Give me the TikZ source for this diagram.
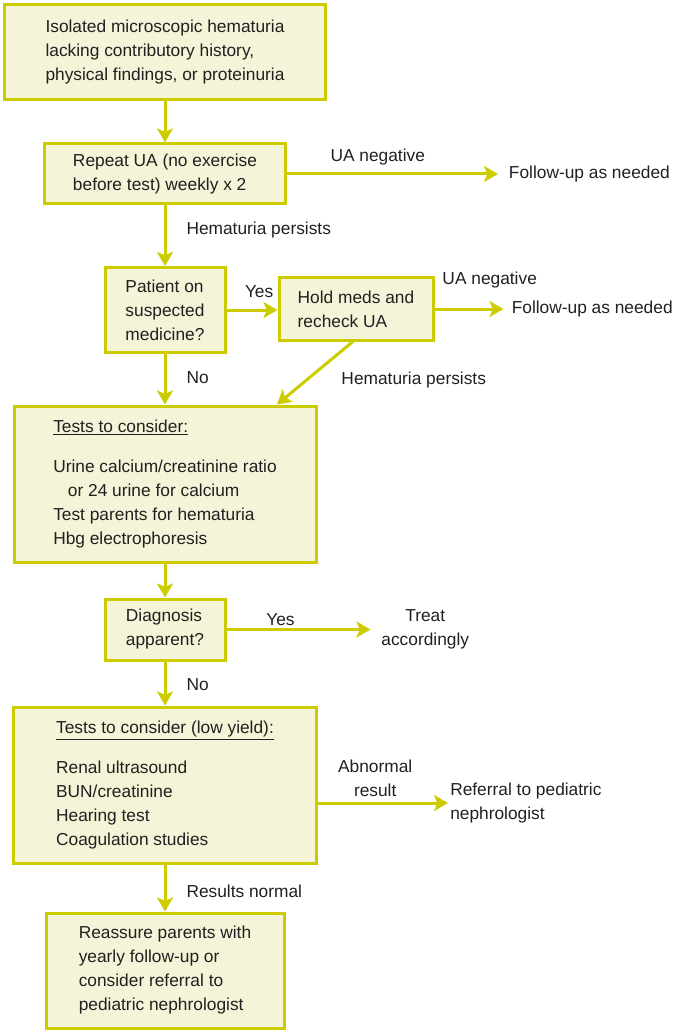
\documentclass[tikz,border=0pt]{standalone}
\usepackage{fontspec}
\setmainfont{Liberation Sans}
\usetikzlibrary{arrows.meta,positioning}
\definecolor{flowline}{RGB}{204,204,0}
\definecolor{flowfill}{RGB}{245,243,216}
\definecolor{inkgray}{RGB}{35,31,32}

\begin{document}
\begin{tikzpicture}[x=0.75pt, y=-0.75pt,
      font=\fontsize{13}{18}\selectfont, text=inkgray,
      arr/.style={-{Stealth[length=10.5pt,width=12pt,inset=2.5pt]}, line width=2.25pt, flowline},
      stepbox/.style={draw=flowline, line width=2.25pt, fill=flowfill,
                      align=left, inner sep=0pt},
      lbl/.style={inner sep=0pt, text depth=0pt, text=inkgray},
      outcome/.style={align=left, inner xsep=8pt, inner ysep=0pt}
    ]
    \useasboundingbox (0,0) rectangle (676,1030);
    \node[stepbox, minimum width=240.75pt, minimum height=71.25pt] (start) at (165,52.5) {%
      Isolated microscopic hematuria\\
      lacking contributory history,\\
      physical findings, or proteinuria};
    \node[stepbox, minimum width=180.75pt, minimum height=45pt] (repeat) at (165,174) {%
      Repeat UA (no exercise\\
      before test) weekly x 2};
    \node[stepbox, minimum width=90pt, minimum height=63.75pt] (onmed) at (165,310) {%
      Patient on\\
      suspected\\
      medicine?};
    \node[stepbox, minimum width=115.5pt, minimum height=46.5pt] (holdmeds) at (356,309) {%
      Hold meds and\\
      recheck UA};
    \node[stepbox, minimum width=226.5pt, minimum height=117pt] (tests) at (165,484) {%
      \underline{Tests to consider:}\\[12pt]
      Urine calcium/creatinine ratio\\
      \hspace*{11pt}or 24 urine for calcium\\
      Test parents for hematuria\\
      Hbg electrophoresis};
    \node[stepbox, minimum width=90pt, minimum height=45.75pt] (diagnosis) at (165,629.5) {%
      Diagnosis\\
      apparent?};
    \node[stepbox, minimum width=227.25pt, minimum height=117pt] (lowyield) at (165,785) {%
      \underline{Tests to consider (low yield):}\\[12pt]
      Renal ultrasound\\
      BUN/creatinine\\
      Hearing test\\
      Coagulation studies};
    \node[stepbox, minimum width=178.5pt, minimum height=86.25pt] (reassure) at (165,970.5) {%
      Reassure parents with\\
      yearly follow-up or\\
      consider referral to\\
      pediatric nephrologist};
    \node[outcome, right=158.25pt of repeat] (followup) {Follow-up as needed};
    \node[outcome, inner xsep=6pt, right=51.75pt of holdmeds] (followup2) {Follow-up as needed};
    \node[outcome, align=center, right=108pt of diagnosis] (treat) {Treat\\accordingly};
    \node[outcome, inner xsep=1.5pt, anchor=west] (referral)
      at ([xshift=97.5pt, yshift=-13.5pt]lowyield.east) {Referral to pediatric\\nephrologist};
    \draw[arr] (start) -- (repeat);
    \draw[arr] (repeat) -- node[lbl, above=8.6pt, pos=0.43] {UA negative} (followup);
    \draw[arr] (repeat) -- node[lbl, right=15pt, pos=0.38] {Hematuria persists} (onmed);
    \draw[arr] (onmed.east) -- node[lbl, above=7.9pt, pos=0.64] {Yes} (onmed.east -| holdmeds.west);
    \draw[arr] (holdmeds) -- node[lbl, above=16.9pt, pos=0.8] {UA negative} (followup2);
    \draw[arr] ([xshift=-2.25pt]holdmeds.south) -- node[lbl, right=23.3pt, pos=0.58] {Hematuria persists}
      ([xshift=84pt]tests.north);
    \draw[arr] (onmed) -- node[lbl, right=15pt, pos=0.46] {No} (tests);
    \draw[arr] (tests) -- (diagnosis);
    \draw[arr] (diagnosis) -- node[lbl, above=2.25pt, pos=0.375] {Yes} (treat);
    \draw[arr] (diagnosis) -- node[lbl, right=15pt, pos=0.515] {No} (lowyield);
    \draw[arr] (lowyield.east |- referral) -- node[lbl, align=center, above=4.1pt, pos=0.44] {Abnormal\\result} (referral);
    \draw[arr] (lowyield) -- node[lbl, right=15pt, pos=0.56] {Results normal} (reassure);
  \end{tikzpicture}
\end{document}
